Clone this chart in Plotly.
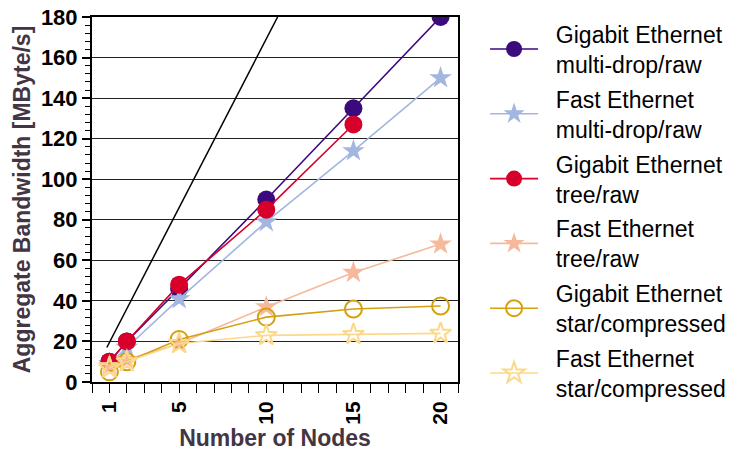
import plotly.graph_objects as go

nodes = [1, 2, 5, 10, 15, 20]
gig_multidrop = [10, 20, 46, 90, 135, 180]
fast_multidrop = [9, 17, 41, 79, 114, 150]
tree_nodes = [1, 2, 5, 10, 15]
gig_tree = [10, 20, 48, 85, 127]
fast_tree = [8, 11, 19, 37, 54, 68]
gig_star = [5, 10, 21, 32, 36, 37.5]
fast_star = [7, 10, 19, 23, 23.5, 24]
ideal_x = [0.85, 10.65]
ideal_y = [17, 180]
x_tick_vals = [1, 5, 10, 15, 20]

fig = go.Figure()

fig.add_trace(go.Scatter(x=ideal_x, y=ideal_y, mode="lines",
                         line=dict(color="black", width=1.5), showlegend=False,
                         hoverinfo="skip"))

pad = "\u00a0\u00a0"
series = [
    ("Gigabit Ethernet<br>multi-drop/raw", nodes, gig_multidrop, "#3b0a7c", "circle", 18),
    ("Fast Ethernet<br>multi-drop/raw", nodes, fast_multidrop, "#a3b6e0", "star", 17),
    ("Gigabit Ethernet<br>tree/raw", tree_nodes, gig_tree, "#d6002b", "circle", 18),
    ("Fast Ethernet<br>tree/raw", nodes, fast_tree, "#f6b99c", "star", 17),
    ("Gigabit Ethernet<br>star/compressed", nodes, gig_star, "#d4a010", "circle-open", 17),
    ("Fast Ethernet<br>star/compressed", nodes, fast_star, "#fcd88a", "star-open", 16),
]

for i, (name, xs, ys, color, sym, size) in enumerate(series):
    label = pad + name.replace("<br>", "<br>" + pad)
    fig.add_trace(go.Scatter(
        x=xs, y=ys, name=label, mode="lines+markers", legendgroup=f"g{i}",
        line=dict(color=color, width=1.6),
        marker=dict(color=color, symbol=sym, size=size,
                    line=dict(color=color, width=2 if "open" in sym else 0)),
    ))

fig.update_layout(
    width=730, height=454,
    margin=dict(l=92, r=272, t=17, b=72, autoexpand=False),
    paper_bgcolor="white", plot_bgcolor="white",
    font=dict(family="Liberation Sans, Arial, sans-serif", color="black"),
    legend=dict(x=1.074, y=1.012, xanchor="left", yanchor="top",
                font=dict(size=23, color="black"),
                tracegroupgap=2, itemwidth=48, bgcolor="rgba(0,0,0,0)",
                maxheight=454),
    showlegend=True,
)

fig.update_xaxes(
    range=[0, 21], tickvals=x_tick_vals, ticks="outside", ticklen=9, tickwidth=1.2,
    tickcolor="black", tickangle=-90, automargin=False, ticklabeloverflow="allow",
    tickfont=dict(size=21, weight="bold", color="black"),
    minor=dict(dtick=1, tick0=0, ticks="outside", ticklen=9, tickwidth=1.2, tickcolor="black", showgrid=False),
    showline=True, linecolor="black", linewidth=2, mirror=True,
    showgrid=False, zeroline=False,
    title=dict(text="Number of Nodes", font=dict(size=23, weight="bold", color="#433543"), standoff=4),
)
fig.update_yaxes(
    range=[0, 180], dtick=20, ticks="outside", ticklen=8, tickwidth=1.5, tickcolor="black",
    automargin=False, ticklabeloverflow="allow",
    tickfont=dict(size=22, weight="bold", color="black"),
    minor=dict(dtick=4, ticks="outside", ticklen=5, tickwidth=1.2, tickcolor="black", showgrid=False),
    showline=True, linecolor="black", linewidth=2, mirror=True,
    showgrid=True, gridcolor="#222222", gridwidth=1, zeroline=False,
    title=dict(text="Aggregate Bandwidth [MByte/s]", font=dict(size=23, weight="bold", color="#433543"), standoff=4),
)

fig.write_html("out.html", config={"displayModeBar": False},
               post_script="document.body.style.margin='0';")
